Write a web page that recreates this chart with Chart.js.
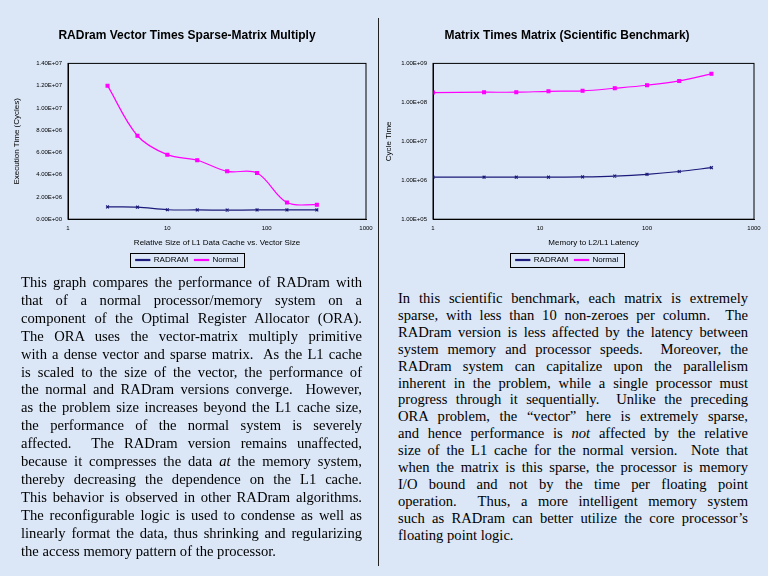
<!DOCTYPE html>
<html>
<head>
<meta charset="utf-8">
<script src="https://cdn.jsdelivr.net/npm/chart.js@4"></script>
<style>
  body { margin: 0; width: 768px; height: 576px; overflow: hidden;
         background: #dbe7f7; position: relative; font-family: "Liberation Serif", serif; }
  .box { position: absolute; }
  .divider { position: absolute; left: 378px; top: 18px; width: 1px; height: 548px; background: #222; }
  .txt { position: absolute; font-size: 14.6px; color: #000; }
  .txt div { text-align: justify; text-align-last: justify; white-space: nowrap; }
  .txt div.last { text-align-last: left; }
</style>
</head>
<body>
<div class="divider"></div>
<div class="box" style="left:0;top:22px;width:380px;height:256px"><canvas id="left"></canvas></div>
<div class="box" style="left:380px;top:22px;width:388px;height:256px"><canvas id="right"></canvas></div>

<div class="txt" style="left:21px;top:274px;width:341px;line-height:17.9px">
<div>This graph compares the performance of RADram with</div>
<div>that of a normal processor/memory system on a</div>
<div>component of the Optimal Register Allocator (ORA).</div>
<div>The ORA uses the vector-matrix multiply primitive</div>
<div>with a dense vector and sparse matrix.&nbsp; As the L1 cache</div>
<div>is scaled to the size of the vector, the performance of</div>
<div>the normal and RADram versions converge.&nbsp; However,</div>
<div>as the problem size increases beyond the L1 cache size,</div>
<div>the performance of the normal system is severely</div>
<div>affected.&nbsp; The RADram version remains unaffected,</div>
<div>because it compresses the data <i>at</i> the memory system,</div>
<div>thereby decreasing the dependence on the L1 cache.</div>
<div>This behavior is observed in other RADram algorithms.</div>
<div>The reconfigurable logic is used to condense as well as</div>
<div>linearly format the data, thus shrinking and regularizing</div>
<div class="last">the access memory pattern of the processor.</div>
</div>

<div class="txt" style="left:398px;top:290px;width:350px;line-height:16.9px">
<div>In this scientific benchmark, each matrix is extremely</div>
<div>sparse, with less than 10 non-zeroes per column.&nbsp; The</div>
<div>RADram version is less affected by the latency between</div>
<div>system memory and processor speeds.&nbsp; Moreover, the</div>
<div>RADram system can capitalize upon the parallelism</div>
<div>inherent in the problem, while a single processor must</div>
<div>progress through it sequentially.&nbsp; Unlike the preceding</div>
<div>ORA problem, the “vector” here is extremely sparse,</div>
<div>and hence performance is <i>not</i> affected by the relative</div>
<div>size of the L1 cache for the normal version.&nbsp; Note that</div>
<div>when the matrix is this sparse, the processor is memory</div>
<div>I/O bound and not by the time per floating point</div>
<div>operation.&nbsp; Thus, a more intelligent memory system</div>
<div>such as RADram can better utilize the core processor’s</div>
<div class="last">floating point logic.</div>
</div>

<script>
const oraSizes = [2.5, 5, 10, 20, 40, 80, 160, 320];
const oraRadram = [1.1e6, 1.08e6, 0.85e6, 0.83e6, 0.82e6, 0.83e6, 0.83e6, 0.83e6];
const oraNormal = [1.2e7, 7.5e6, 5.8e6, 5.3e6, 4.3e6, 4.15e6, 1.5e6, 1.3e6];

const latencies = [1, 3, 6, 12, 25, 50, 100, 200, 400];
const mmRadram = [1.2e6, 1.2e6, 1.2e6, 1.2e6, 1.22e6, 1.28e6, 1.42e6, 1.68e6, 2.1e6];
const mmNormal = [1.78e8, 1.82e8, 1.82e8, 1.92e8, 1.98e8, 2.3e8, 2.75e8, 3.55e8, 5.4e8];

const navy = '#1c1a7a', pink = '#ff00ff';
const tiny = { family: 'Liberation Sans', size: 6 };
const lab = { family: 'Liberation Sans', size: 8 };

function sci(v) {
  if (v === 0) return '0.00E+00';
  const e = Math.floor(Math.log10(v) + 1e-9);
  const m = v / Math.pow(10, e);
  return m.toFixed(2) + 'E+' + String(e).padStart(2, '0');
}

// box round the legend items only, like the old spreadsheet legend
const legendBox = {
  id: 'legendBox',
  afterDraw(chart) {
    const l = chart.legend;
    if (!l || !l.legendHitBoxes || !l.legendHitBoxes.length) return;
    const hb = l.legendHitBoxes;
    const x0 = Math.min(...hb.map(b => b.left)) - 6;
    const x1 = Math.max(...hb.map(b => b.left + b.width)) + 6;
    const y0 = Math.min(...hb.map(b => b.top)) - 3;
    const y1 = Math.max(...hb.map(b => b.top + b.height)) + 3;
    const c = chart.ctx;
    c.save(); c.strokeStyle = '#000'; c.lineWidth = 1;
    c.strokeRect(Math.round(x0) + 0.5, Math.round(y0) + 0.5, Math.round(x1 - x0), Math.round(y1 - y0));
    c.restore();
  }
};

function makeChart(id, title, xs, rad, norm, yOpts, xTitle, yTitle, padL, yWidth) {
  new Chart(document.getElementById(id), {
    type: 'line',
    data: {
      datasets: [
        { label: 'RADRAM', data: xs.map((x, i) => ({ x: x, y: rad[i] })), borderColor: navy, backgroundColor: navy,
          borderWidth: 1.2, pointStyle: 'crossRot', pointRadius: 2, tension: 0.35 },
        { label: 'Normal', data: xs.map((x, i) => ({ x: x, y: norm[i] })), borderColor: pink, backgroundColor: pink,
          borderWidth: 1.2, pointStyle: 'rect', pointRadius: 2, tension: 0.35 }
      ]
    },
    options: {
      responsive: true, maintainAspectRatio: false, animation: false,
      layout: { padding: { left: padL, right: 14, top: 0, bottom: 4 } },
      plugins: {
        title: { display: true, text: title, color: '#000', font: { family: 'Liberation Sans', size: 12, weight: 'bold' },
                 padding: { top: 6, bottom: 21 } },
        legend: { position: 'bottom', labels: { color: '#000', font: lab, boxWidth: 14, boxHeight: 1, padding: 6 } }
      },
      scales: {
        x: { type: 'logarithmic', min: 1, max: 1000,
             grid: { display: false, drawTicks: true, tickLength: 3 }, border: { color: '#000' },
             ticks: { color: '#000', font: tiny, autoSkip: false, maxRotation: 0, minRotation: 0,
                      callback: v => [1, 10, 100, 1000].includes(v) ? String(v) : '' },
             title: { display: true, text: xTitle, color: '#000', font: lab, padding: { top: 3, bottom: 2 } } },
        y: Object.assign({ grid: { display: false, tickLength: 3 }, border: { color: '#000' },
             afterFit: s => { s.width = yWidth; },
             title: { display: true, text: yTitle, color: '#000', font: lab } }, yOpts)
      }
    },
    plugins: [legendBox, {
      id: 'frame',
      afterDraw(chart) {
        const a = chart.chartArea, c = chart.ctx;
        c.save(); c.strokeStyle = '#000'; c.lineWidth = 1;
        c.strokeRect(a.left, a.top, a.right - a.left, a.bottom - a.top);
        c.restore();
      }
    }]
  });
}

makeChart('left', 'RADram Vector Times Sparse-Matrix Multiply', oraSizes, oraRadram, oraNormal,
  { min: 0, max: 1.4e7, ticks: { stepSize: 2e6, color: '#000', font: tiny, callback: v => sci(v) } },
  'Relative Size of L1 Data Cache vs. Vector Size', 'Execution Time (Cycles)', 8, 60);

makeChart('right', 'Matrix Times Matrix (Scientific Benchmark)', latencies, mmRadram, mmNormal,
  { type: 'logarithmic', min: 1e5, max: 1e9,
    ticks: { color: '#000', font: tiny, autoSkip: false,
             callback: v => [1e5, 1e6, 1e7, 1e8, 1e9].includes(v) ? sci(v) : '' } },
  'Memory to L2/L1 Latency', 'Cycle Time', 0, 53);
</script>
</body>
</html>
